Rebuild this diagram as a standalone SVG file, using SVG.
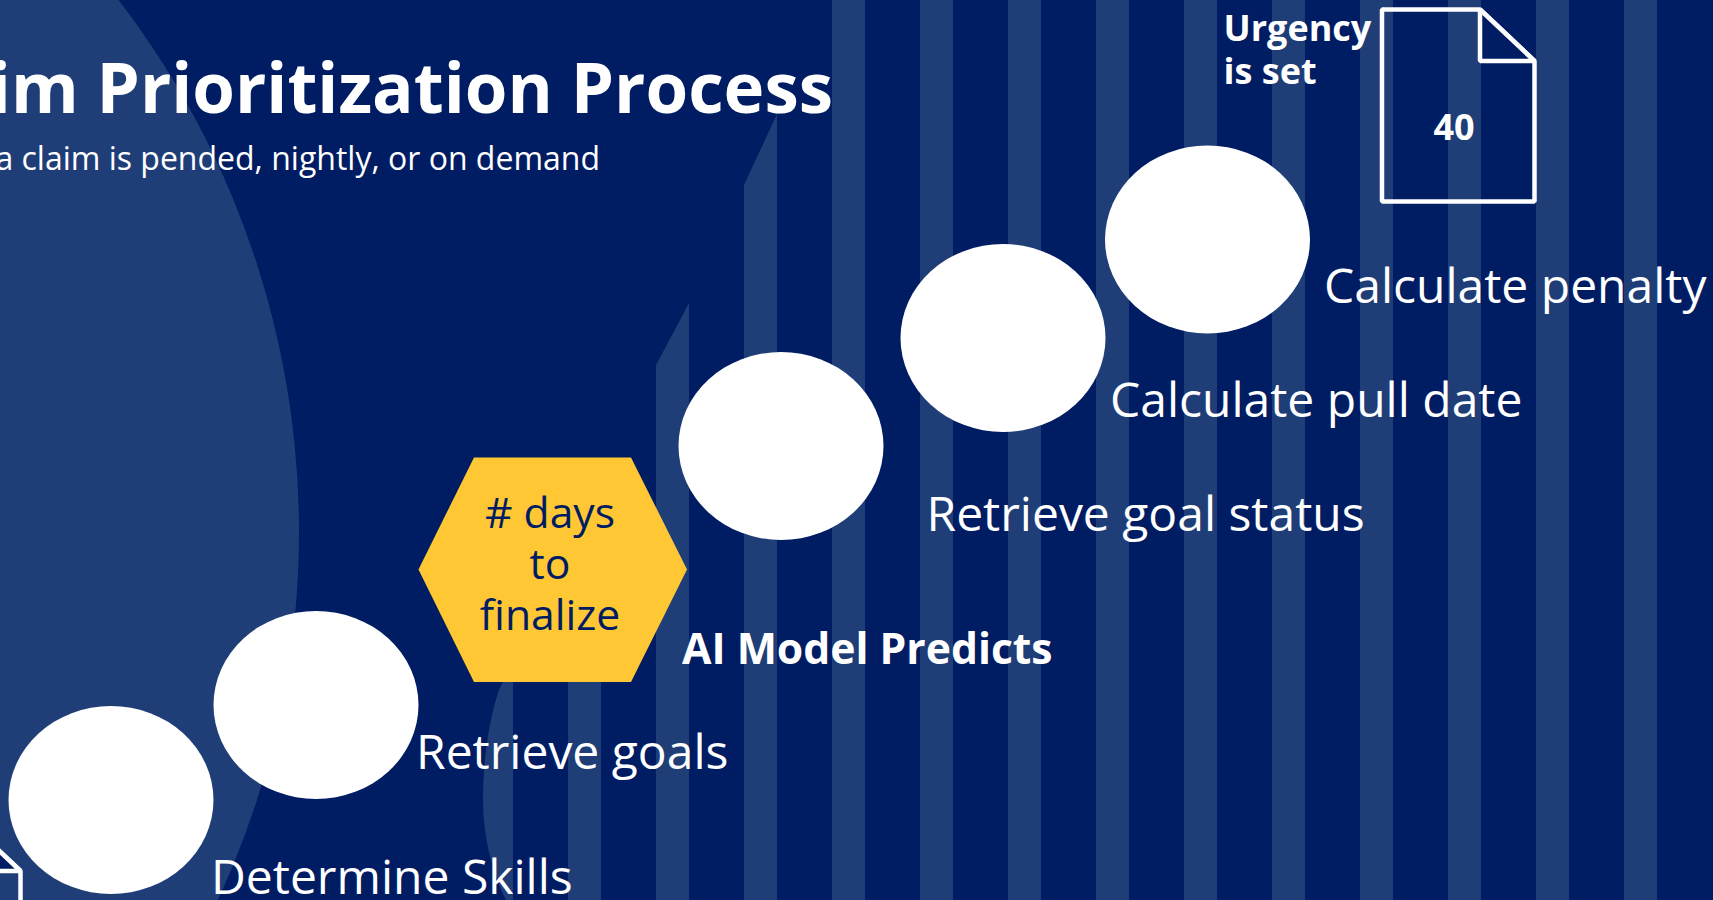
<svg xmlns="http://www.w3.org/2000/svg" width="1713" height="900" viewBox="0 0 1713 900">
  <style>
    text { font-family: "Open Sans", "Liberation Sans", sans-serif; fill: #ffffff; }
    .label { font-size: 48px; }
    .bold { font-weight: 700; }
    .hex { font-size: 42.67px; fill: #001c62; text-anchor: middle; }
    .doc { fill: none; stroke: #ffffff; stroke-width: 4.5; stroke-linejoin: bevel; }
    .fold { fill: #001c62; stroke: #ffffff; stroke-width: 4.5; stroke-linejoin: bevel; }
    .step { fill: #ffffff; }
    .deco { fill: #1f3e77; }
  </style>
  <defs>
    <clipPath id="stripeClip">
      <path d="M831.4,0 L1713,0 L1713,900 L506,900 C494,875 483,840 483,800 C483,770 487,725 499,690 L655.5,366 L688.5,304 L743.5,186 L776.5,115 Z"/>
    </clipPath>
    <g id="docShape">
      <path class="doc" d="M1382,9.5 L1480,9.5 L1534.5,61 L1534.5,201.5 L1382,201.5 Z"/>
      <path class="fold" d="M1480,9.5 L1480,61 L1534.5,61 Z"/>
    </g>
  </defs>
  <rect id="background" width="1713" height="900" fill="#001c62"/>
  <g id="decoration">
    <circle class="deco" cx="-576" cy="532" r="875"/>
    <g clip-path="url(#stripeClip)" class="deco">
      <rect x="480" y="0" width="33" height="900"/>
      <rect x="568" y="0" width="33" height="900"/>
      <rect x="656" y="0" width="33" height="900"/>
      <rect x="744" y="0" width="33" height="900"/>
      <rect x="832" y="0" width="33" height="900"/>
      <rect x="920" y="0" width="33" height="900"/>
      <rect x="1008" y="0" width="33" height="900"/>
      <rect x="1096" y="0" width="33" height="900"/>
      <rect x="1184" y="0" width="33" height="900"/>
      <rect x="1272" y="0" width="33" height="900"/>
      <rect x="1360" y="0" width="33" height="900"/>
      <rect x="1448" y="0" width="33" height="900"/>
      <rect x="1536" y="0" width="33" height="900"/>
      <rect x="1624" y="0" width="33" height="900"/>
    </g>
  </g>
  <g id="title">
    <text class="bold" x="833" y="113" font-size="69" text-anchor="end">im Prioritization Process</text>
    <text x="600" y="170" font-size="32" text-anchor="end">a claim is pended, nightly, or on demand</text>
  </g>
  <g id="connectors"></g>
  <g id="doc-start"><use href="#docShape" transform="translate(-1514,810)"/></g>
  <g id="step-skills">
    <ellipse class="step" cx="111" cy="800" rx="102.5" ry="94"/>
    <text class="label" x="211" y="894">Determine Skills</text>
  </g>
  <g id="step-goals">
    <ellipse class="step" cx="316" cy="705" rx="102.5" ry="94"/>
    <text class="label" x="416" y="769">Retrieve goals</text>
  </g>
  <g id="hex-model">
    <polygon points="418.5,569.5 474,457.5 631,457.5 687,569.5 631,682 474,682" fill="#ffc733"/>
    <text class="hex" x="550" y="527.5"># days</text>
    <text class="hex" x="550" y="579">to</text>
    <text class="hex" x="550" y="630">finalize</text>
    <text class="bold" x="682" y="664" font-size="42.67">AI Model Predicts</text>
  </g>
  <g id="step-status">
    <ellipse class="step" cx="781" cy="446" rx="102.5" ry="94"/>
    <text class="label" x="926.5" y="531">Retrieve goal status</text>
  </g>
  <g id="step-pull">
    <ellipse class="step" cx="1003" cy="338" rx="102.5" ry="94"/>
    <text class="label" x="1110" y="417">Calculate pull date</text>
  </g>
  <g id="step-penalty">
    <ellipse class="step" cx="1207.5" cy="239.5" rx="102.5" ry="94"/>
    <text class="label" x="1324" y="302.5">Calculate penalty</text>
  </g>
  <g id="doc-urgency">
    <text class="bold" x="1223.5" y="40.5" font-size="36">Urgency</text>
    <text class="bold" x="1223.5" y="83.5" font-size="36">is set</text>
    <use href="#docShape"/>
    <text class="bold" x="1454" y="139.5" font-size="36" text-anchor="middle">40</text>
  </g>
</svg>
